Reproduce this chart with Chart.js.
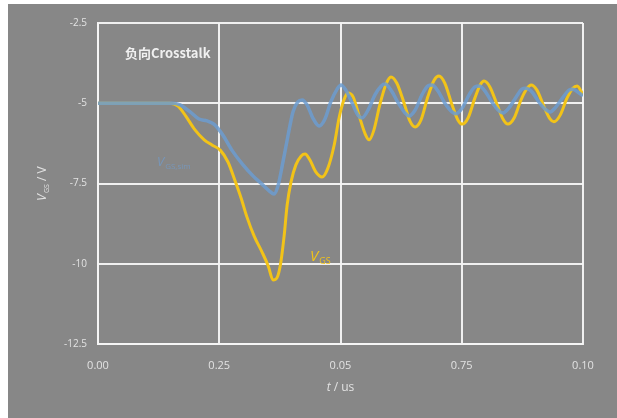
<!DOCTYPE html>
<html>
<head>
<meta charset="utf-8">
<script src="https://cdn.jsdelivr.net/npm/chart.js@4"></script>
<style>
  html, body { margin: 0; padding: 0; background: #ffffff; }
  #frame {
    position: absolute; left: 8px; top: 4px;
    width: 609px; height: 414px;
    background: #878787;
  }
</style>
</head>
<body>
<div id="frame"><canvas id="chart"></canvas></div>
<script>
// Time axis (normalised 0..1) and gate-source voltage traces, in volts
const tGS = [0, 0.148, 0.165, 0.181, 0.2, 0.219, 0.235, 0.252, 0.268, 0.282, 0.295, 0.307, 0.322, 0.338, 0.351, 0.361, 0.369, 0.377, 0.384, 0.39, 0.398, 0.408, 0.419, 0.427, 0.437, 0.449, 0.462, 0.474, 0.487, 0.497, 0.507, 0.515, 0.526, 0.538, 0.551, 0.559, 0.569, 0.581, 0.594, 0.604, 0.616, 0.631, 0.643, 0.654, 0.666, 0.68, 0.693, 0.703, 0.715, 0.73, 0.742, 0.751, 0.763, 0.777, 0.788, 0.796, 0.808, 0.823, 0.835, 0.845, 0.858, 0.872, 0.885, 0.893, 0.905, 0.92, 0.932, 0.94, 0.953, 0.967, 0.979, 0.988, 1.0];
const vGS = [-5.0, -5.0, -5.09, -5.4, -5.83, -6.14, -6.3, -6.46, -6.83, -7.39, -7.95, -8.54, -9.14, -9.63, -10.07, -10.51, -10.44, -9.95, -9.1, -8.17, -7.45, -6.92, -6.64, -6.58, -6.77, -7.14, -7.3, -7.02, -6.3, -5.46, -4.9, -4.68, -4.8, -5.37, -5.96, -6.14, -5.83, -5.05, -4.4, -4.18, -4.37, -4.99, -5.55, -5.74, -5.52, -4.8, -4.28, -4.15, -4.37, -5.05, -5.52, -5.65, -5.46, -4.84, -4.43, -4.31, -4.49, -5.05, -5.49, -5.65, -5.46, -4.9, -4.53, -4.43, -4.59, -5.12, -5.49, -5.58, -5.37, -4.84, -4.53, -4.46, -4.74];

const tSim = [0, 0.153, 0.169, 0.19, 0.208, 0.225, 0.239, 0.256, 0.276, 0.299, 0.32, 0.338, 0.353, 0.363, 0.371, 0.381, 0.392, 0.402, 0.412, 0.421, 0.431, 0.443, 0.456, 0.468, 0.48, 0.493, 0.501, 0.511, 0.524, 0.536, 0.544, 0.557, 0.571, 0.584, 0.592, 0.604, 0.619, 0.633, 0.641, 0.654, 0.668, 0.68, 0.689, 0.701, 0.715, 0.73, 0.738, 0.751, 0.765, 0.777, 0.786, 0.798, 0.812, 0.827, 0.835, 0.847, 0.862, 0.874, 0.882, 0.895, 0.909, 0.924, 0.932, 0.944, 0.959, 0.971, 0.979, 0.992, 1.0];
const vSim = [-5.0, -5.0, -5.05, -5.27, -5.49, -5.55, -5.65, -5.96, -6.46, -6.92, -7.27, -7.52, -7.73, -7.83, -7.58, -6.86, -5.99, -5.27, -4.96, -4.9, -5.05, -5.46, -5.71, -5.49, -4.96, -4.56, -4.43, -4.59, -4.99, -5.37, -5.46, -5.21, -4.74, -4.46, -4.4, -4.59, -4.99, -5.3, -5.4, -5.21, -4.74, -4.46, -4.43, -4.62, -4.99, -5.27, -5.33, -5.15, -4.74, -4.49, -4.46, -4.62, -4.96, -5.24, -5.3, -5.15, -4.81, -4.56, -4.53, -4.65, -4.96, -5.21, -5.27, -5.12, -4.81, -4.59, -4.56, -4.68, -4.77];

// Tick labels as printed on the axes
const xTickLabels = ['0.00', '0.25', '0.05', '0.75', '0.10'];
const yTickLabels = ['-12.5', '-10', '-7.5', '-5', '-2.5'];

const zip = (xs, ys) => xs.map((x, i) => ({ x: x, y: ys[i] }));

const GRID = 'rgba(245,245,245,0.95)';
const TICK = '#e2e2e2';
const YELLOW = '#f2c318';
const BLUE = 'rgba(108,156,208,0.85)';

// Draws "V" with a subscript, optionally rotated
function drawSubLabel(ctx, x, y, main, sub, color, size, rot, suffix) {
  ctx.save();
  ctx.translate(x, y);
  if (rot) ctx.rotate(rot);
  ctx.fillStyle = color;
  ctx.textBaseline = 'alphabetic';
  ctx.textAlign = 'left';
  ctx.font = 'italic ' + size + 'px "Open Sans", "DejaVu Sans", sans-serif';
  const w1 = ctx.measureText(main).width;
  ctx.font = Math.round(size * 0.62) + 'px "Open Sans", "DejaVu Sans", sans-serif';
  const w2 = ctx.measureText(sub).width;
  let w3 = 0;
  if (suffix) {
    ctx.font = size + 'px "Open Sans", "DejaVu Sans", sans-serif';
    w3 = ctx.measureText(suffix).width;
  }
  const total = w1 + 1 + w2 + w3;
  const x0 = rot ? -total / 2 : 0;
  ctx.font = 'italic ' + size + 'px "Open Sans", "DejaVu Sans", sans-serif';
  ctx.fillText(main, x0, 0);
  ctx.font = Math.round(size * 0.62) + 'px "Open Sans", "DejaVu Sans", sans-serif';
  ctx.fillText(sub, x0 + w1 + 1, size * 0.22);
  if (suffix) {
    ctx.font = size + 'px "Open Sans", "DejaVu Sans", sans-serif';
    ctx.fillText(suffix, x0 + w1 + 1 + w2, 0);
  }
  ctx.restore();
}

const annotations = {
  id: 'annotations',
  afterDraw(chart) {
    const ctx = chart.ctx;
    const area = chart.chartArea;
    // panel title
    ctx.save();
    ctx.fillStyle = '#f0f0f0';
    ctx.font = '600 13px "Noto Sans CJK SC", "Open Sans", sans-serif';
    ctx.textBaseline = 'middle';
    ctx.textAlign = 'left';
    ctx.fillText('负向Crosstalk', area.left + 27, area.top + 30);
    ctx.restore();

    // series labels
    drawSubLabel(ctx, area.left + 212, area.top + 238, 'V', 'GS', YELLOW, 15, 0);
    drawSubLabel(ctx, area.left + 59, area.top + 143, 'V', 'GS,sim', 'rgba(112,156,206,0.7)', 13, 0);

    // axis titles
    drawSubLabel(ctx, 38, (area.top + area.bottom) / 2, 'V', 'GS', TICK, 12, -Math.PI / 2, ' / V');
    ctx.save();
    ctx.fillStyle = TICK;
    ctx.textBaseline = 'middle';
    ctx.textAlign = 'left';
    ctx.font = 'italic 12px "Open Sans", "DejaVu Sans", sans-serif';
    const cx = (area.left + area.right) / 2;
    const tw = ctx.measureText('t').width;
    ctx.font = '12px "Open Sans", "DejaVu Sans", sans-serif';
    const rw = ctx.measureText(' / us').width;
    const sx = cx - (tw + rw) / 2;
    ctx.font = 'italic 12px "Open Sans", "DejaVu Sans", sans-serif';
    ctx.fillText('t', sx, area.bottom + 44);
    ctx.font = '12px "Open Sans", "DejaVu Sans", sans-serif';
    ctx.fillText(' / us', sx + tw, area.bottom + 44);
    ctx.restore();
  }
};

new Chart(document.getElementById('chart'), {
  type: 'line',
  data: {
    datasets: [
      {
        label: 'VGS',
        data: zip(tGS, vGS),
        borderColor: YELLOW,
        borderWidth: 3,
        pointRadius: 0,
        cubicInterpolationMode: 'monotone',
        order: 2
      },
      {
        label: 'VGS,sim',
        data: zip(tSim, vSim),
        borderColor: BLUE,
        borderWidth: 3.5,
        pointRadius: 0,
        cubicInterpolationMode: 'monotone',
        order: 1
      }
    ]
  },
  options: {
    responsive: true,
    maintainAspectRatio: false,
    animation: false,
    layout: { padding: { left: 0, top: 19, right: 34, bottom: 0 } },
    plugins: { legend: { display: false }, tooltip: { enabled: false } },
    scales: {
      x: {
        type: 'linear',
        min: 0, max: 1,
        afterFit(scale) { scale.height = 74; },
        ticks: {
          stepSize: 0.25,
          padding: 15,
          color: TICK,
          font: { family: '"Open Sans", "DejaVu Sans", sans-serif', size: 11 },
          callback: (v, i) => xTickLabels[i],
          maxRotation: 0
        },
        grid: { color: GRID, lineWidth: 2, drawTicks: false },
        border: { color: GRID, width: 2 }
      },
      y: {
        type: 'linear',
        min: -12.5, max: -2.5,
        afterFit(scale) { scale.width = 90; },
        ticks: {
          stepSize: 2.5,
          padding: 11,
          color: TICK,
          font: { family: '"Open Sans", "DejaVu Sans", sans-serif', size: 10 },
          callback: (v, i) => yTickLabels[i]
        },
        grid: { color: GRID, lineWidth: 2, drawTicks: false },
        border: { color: GRID, width: 2 }
      }
    }
  },
  plugins: [annotations]
});
</script>
</body>
</html>
